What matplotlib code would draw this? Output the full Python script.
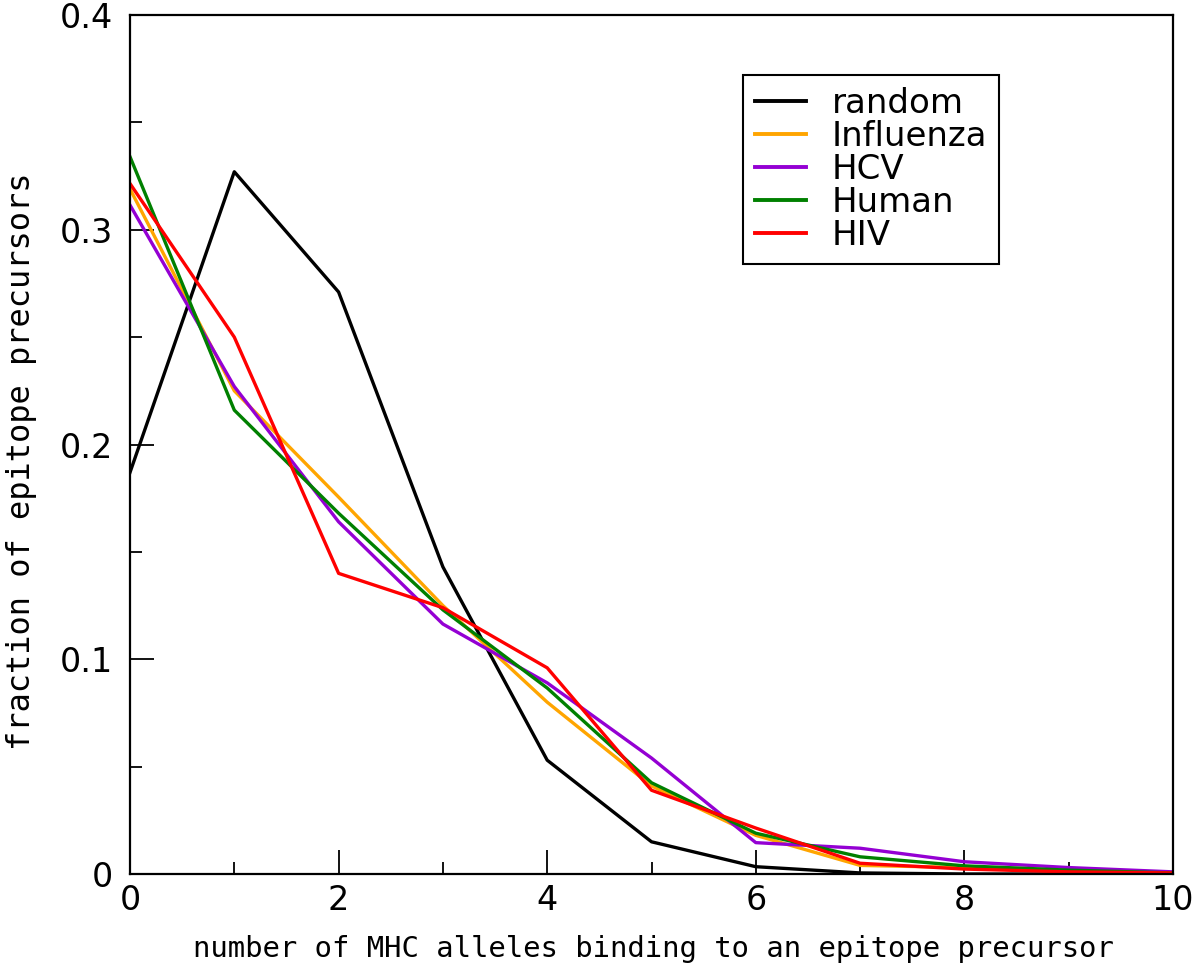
import numpy as np
import matplotlib
matplotlib.use("Agg")
import matplotlib.pyplot as plt
from matplotlib.ticker import MultipleLocator

# number of MHC alleles binding
alleles = [0, 1, 2, 3, 4, 5, 6, 7, 8, 9, 10]

random_frac = [0.187, 0.327, 0.271, 0.143, 0.053, 0.015, 0.0034, 0.0005, 0.0, 0.0, 0.0]
influenza = [0.319, 0.225, 0.1755, 0.125, 0.080, 0.041, 0.018, 0.004, 0.003, 0.0012, 0.0005]
hcv = [0.3115, 0.227, 0.164, 0.1164, 0.089, 0.054, 0.0146, 0.012, 0.0057, 0.003, 0.001]
human = [0.334, 0.216, 0.168, 0.123, 0.0866, 0.0425, 0.019, 0.008, 0.0038, 0.0018, 0.0005]
hiv = [0.3215, 0.250, 0.140, 0.124, 0.096, 0.039, 0.0214, 0.005, 0.0023, 0.001, 0.0005]

series = [
    ("random", random_frac, "black"),
    ("Influenza", influenza, "orange"),
    ("HCV", hcv, "darkviolet"),
    ("Human", human, "green"),
    ("HIV", hiv, "red"),
]

fig = plt.figure(figsize=(12, 9.64), dpi=100)
ax = fig.add_axes([130 / 1200, 90 / 964, 1043 / 1200, 859 / 964])

for name, vals, col in series:
    ax.plot(alleles, vals, color=col, linewidth=2.4, label=name)

ax.set_xlim(0, 10)
ax.set_ylim(0, 0.4)
ax.xaxis.set_minor_locator(MultipleLocator(1))
ax.yaxis.set_minor_locator(MultipleLocator(0.05))
ax.set_yticks([0, 0.1, 0.2, 0.3, 0.4])
ax.set_yticklabels(["0", "0.1", "0.2", "0.3", "0.4"])
ax.set_xticks([0, 2, 4, 6, 8, 10])
ax.set_xticklabels(["0", "2", "4", "6", "8", "10"])

ax.tick_params(which="both", direction="in", top=False, right=False,
               labelsize=24, width=1.3)
ax.tick_params(which="major", length=17)
ax.tick_params(axis="y", which="major", pad=12)
ax.tick_params(axis="x", which="major", pad=7)
ax.tick_params(which="minor", length=8.5)
for sp in ax.spines.values():
    sp.set_linewidth(1.6)

# axis titles in monospace, placed like the original
fig.text(653 / 1200, 1 - 957 / 964,
         "number of MHC alleles binding to an epitope precursor",
         family="DejaVu Sans Mono", fontsize=20.8, ha="center", va="baseline")
fig.text(22 / 1200, 1 - 461.5 / 964, "fraction of epitope precursors",
         family="DejaVu Sans Mono", fontsize=23, rotation=90,
         ha="center", va="center")

leg = ax.legend(loc="upper left", bbox_to_anchor=(743 / 1200, 1 - 75 / 964),
                bbox_transform=fig.transFigure, fontsize=24.5, frameon=True,
                fancybox=False, edgecolor="black", framealpha=1,
                handlelength=1.5, handletextpad=0.75, labelspacing=0.0,
                borderpad=0.35, borderaxespad=0)
leg.get_frame().set_linewidth(1.5)
for line in leg.get_lines():
    line.set_linewidth(2.8)

fig.savefig("out.png", dpi=100)
